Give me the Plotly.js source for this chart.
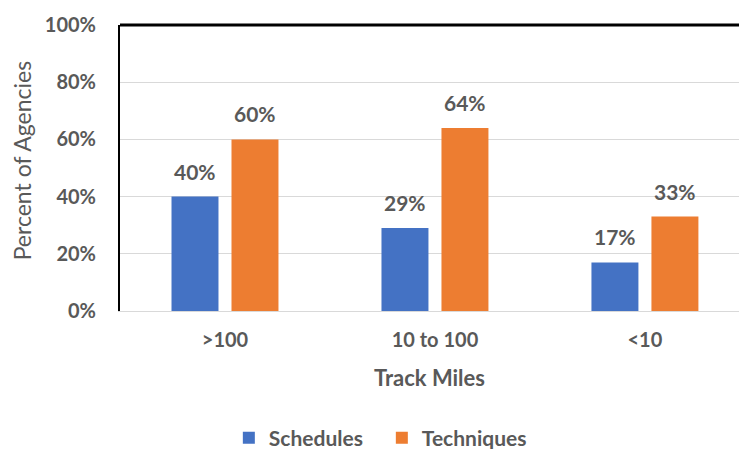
<!DOCTYPE html>
<html><head><meta charset="utf-8">
<script src="https://cdn.plot.ly/plotly-3.0.1.min.js"></script>
<style>body{margin:0;background:#fff}#chart{width:739px;height:449px}</style>
</head><body><div id="chart"></div>
<script>
const categories = [">100", "10 to 100", "<10"];
const schedules = [40, 29, 17];
const techniques = [60, 64, 33];
const seriesNames = ["Schedules", "Techniques"];
const yTickVals = [0, 20, 40, 60, 80, 100];
const yTickText = ["0%", "20%", "40%", "60%", "80%", "100%"];
const xTitle = "Track Miles";
const yTitle = "Percent of Agencies";

const FONT = "Lato, 'Open Sans', sans-serif";
const GRAY = "#595959";
const colors = ["#4472C4", "#ED7D31"];

const traces = [schedules, techniques].map((vals, i) => ({
  type: "bar", name: seriesNames[i], x: categories, y: vals,
  marker: {color: colors[i]}, hoverinfo: "none"
}));

const annotations = [];
[schedules, techniques].forEach((vals, i) => {
  vals.forEach((v, j) => {
    annotations.push({
      x: categories[j], y: v, xref: "x", yref: "y",
      text: v + "%", showarrow: false, yanchor: "bottom",
      xshift: i === 0 ? -30 : 30, yshift: 11,
      font: {family: FONT, size: 21, color: GRAY, weight: "bold"}
    });
  });
});
annotations.push({
  xref: "paper", yref: "paper", x: -0.158, y: 0.524, xanchor: "center", yanchor: "middle",
  text: yTitle, textangle: -90, showarrow: false,
  font: {family: FONT, size: 23, color: GRAY}
});

const layout = {
  width: 739, height: 449,
  margin: {l: 120, r: 0, t: 25, b: 138},
  paper_bgcolor: "#fff", plot_bgcolor: "#fff",
  barmode: "group", bargap: 0.4286, bargroupgap: 0.217,
  font: {family: FONT, color: GRAY},
  xaxis: {
    type: "category", range: [-0.5, 2.448], fixedrange: true, automargin: false,
    showline: true, linecolor: "#d9d9d9", linewidth: 1, showgrid: false, zeroline: false,
    ticks: "", ticklabelstandoff: 11,
    tickfont: {family: FONT, size: 20, color: GRAY, weight: "bold"},
    title: {text: xTitle, standoff: 20, font: {family: FONT, size: 22, color: GRAY, weight: "bold"}}
  },
  yaxis: {
    range: [0, 100], tickvals: yTickVals, ticktext: yTickText, automargin: false,
    showline: true, linecolor: "#000", linewidth: 2,
    showgrid: true, gridcolor: "#d9d9d9", gridwidth: 1, zeroline: false,
    ticks: "", ticklabelstandoff: 18,
    tickfont: {family: FONT, size: 20, color: GRAY, weight: "bold"}
  },
  shapes: [{type: "line", xref: "paper", yref: "paper", x0: 0, x1: 1, y0: 1, y1: 1, line: {color: "#000", width: 3}}],
  legend: {
    orientation: "h", x: 0.423, xanchor: "center", yref: "container", y: 0.0245, yanchor: "middle",
    font: {family: FONT, size: 21, color: GRAY, weight: "bold"}, itemwidth: 30, entrywidth: 108
  },
  annotations: annotations
};

Plotly.newPlot("chart", traces, layout, {displayModeBar: false, staticPlot: true});
</script></body></html>
